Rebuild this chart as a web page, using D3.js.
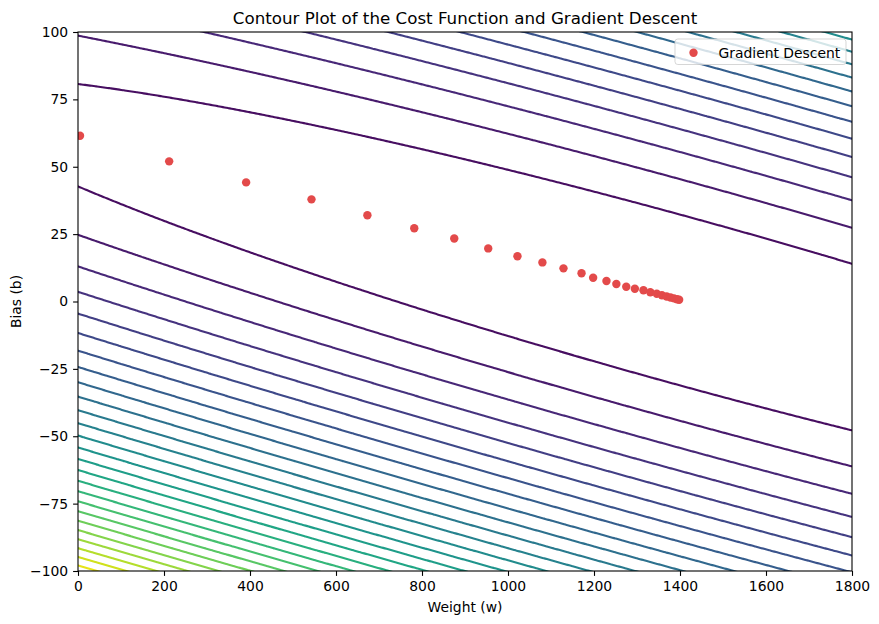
<!DOCTYPE html>
<html>
<head>
<meta charset="utf-8">
<script src="https://cdn.jsdelivr.net/npm/d3@7"></script>
<style>
  body { margin: 0; background: #fff; }
  svg { font-family: "DejaVu Sans", sans-serif; }
  .axis text { font-size: 13.9px; fill: #000; }
  .axis path, .axis line { stroke: #000; stroke-width: 1.1px; }
</style>
</head>
<body>
<svg width="879" height="624"></svg>
<script>
// gradient descent steps
var gdW = [4.7, 212, 391, 543, 673, 782, 875, 954, 1022, 1080, 1129, 1171, 1198, 1229, 1252, 1275, 1295, 1315, 1331, 1346, 1358, 1369, 1378, 1386, 1393, 1398];
var gdB = [61.5, 52.0, 44.2, 37.9, 32.0, 27.2, 23.4, 19.7, 16.8, 14.5, 12.3, 10.5, 8.8, 7.6, 6.5, 5.5, 4.75, 4.16, 3.45, 2.86, 2.34, 1.86, 1.48, 1.15, 0.85, 0.63];

var xTicks = [0, 200, 400, 600, 800, 1000, 1200, 1400, 1600, 1800];
var yTicks = [-100, -75, -50, -25, 0, 25, 50, 75, 100];

// cost surface (2*J up to a constant), fitted to the contour lines
var valleyB0 = 61.7;      // best b at w = 0
var valleySlope = -0.04367; // best b drops this much per unit of w
var wBest = 1408;
var wCurv = 3.25e-4;
var levelStep = 1005;
var levelCount = 27;

function cost(w, b) {
  var r = b - (valleyB0 + valleySlope * w);
  return r * r + wCurv * (w - wBest) * (w - wBest);
}

var svg = d3.select("svg"),
    margin = {top: 32, right: 27, bottom: 53, left: 78},
    width = +svg.attr("width") - margin.left - margin.right,
    height = +svg.attr("height") - margin.top - margin.bottom;

var x = d3.scaleLinear().domain([0, 1800]).range([0, width]),
    y = d3.scaleLinear().domain([-100, 100]).range([height, 0]);

var g = svg.append("g")
    .attr("transform", "translate(" + margin.left + "," + margin.top + ")");

g.append("clipPath").attr("id", "plot-clip")
  .append("rect").attr("width", width).attr("height", height);

// grid a bit wider than the axes so the ring edges fall outside the clip
var wLo = -100, wHi = 1900, bLo = -110, bHi = 110, nx = 500, ny = 300;
var dw = (wHi - wLo) / (nx - 1), db = (bHi - bLo) / (ny - 1);
var values = new Float64Array(nx * ny);
for (var j = 0; j < ny; j++) {
  for (var i = 0; i < nx; i++) {
    values[j * nx + i] = cost(wLo + i * dw, bLo + j * db);
  }
}

var levels = d3.range(1, levelCount + 1).map(function(k) { return k * levelStep; });
var contours = d3.contours().size([nx, ny]).thresholds(levels)(values);

var proj = d3.geoTransform({
  point: function(px, py) {
    this.stream.point(x(wLo + (px - 0.5) * dw), y(bLo + (py - 0.5) * db));
  }
});
var path = d3.geoPath(proj);

g.append("g")
    .attr("clip-path", "url(#plot-clip)")
  .selectAll("path")
  .data(contours)
  .enter().append("path")
    .attr("d", path)
    .attr("fill", "none")
    .attr("stroke", function(d) { return d3.interpolateViridis(d.value / (levelStep * levelCount)); })
    .attr("stroke-width", 2.1);

g.append("g")
    .attr("clip-path", "url(#plot-clip)")
  .selectAll("circle")
  .data(gdW)
  .enter().append("circle")
    .attr("cx", function(d) { return x(d); })
    .attr("cy", function(d, i) { return y(gdB[i]); })
    .attr("r", 4.2)
    .attr("fill", "#e34a4a");

// frame
g.append("rect")
    .attr("width", width).attr("height", height)
    .attr("fill", "none").attr("stroke", "#000").attr("stroke-width", 1.1);

g.append("g")
    .attr("class", "axis")
    .attr("transform", "translate(0," + height + ")")
    .call(d3.axisBottom(x).tickValues(xTicks).tickSize(4.9).tickPadding(4.9).tickFormat(d3.format("d")))
    .call(function(a) { a.select(".domain").remove(); a.attr("font-family", null).attr("font-size", null); });

g.append("g")
    .attr("class", "axis")
    .call(d3.axisLeft(y).tickValues(yTicks).tickSize(4.9).tickPadding(4.9).tickFormat(d3.format("d")))
    .call(function(a) { a.select(".domain").remove(); a.attr("font-family", null).attr("font-size", null); });

svg.append("text")
    .attr("x", margin.left + width / 2).attr("y", 24)
    .attr("text-anchor", "middle")
    .attr("font-size", "16.7px")
    .text("Contour Plot of the Cost Function and Gradient Descent");

svg.append("text")
    .attr("x", margin.left + width / 2).attr("y", 612)
    .attr("text-anchor", "middle")
    .attr("font-size", "13.9px")
    .text("Weight (w)");

svg.append("text")
    .attr("transform", "translate(20.5," + (margin.top + height / 2) + ") rotate(-90)")
    .attr("text-anchor", "middle")
    .attr("font-size", "13.9px")
    .text("Bias (b)");

// legend
var lg = svg.append("g").attr("transform", "translate(675,39)");
lg.append("rect")
    .attr("width", 171).attr("height", 25.5).attr("rx", 2.8)
    .attr("fill", "#fff").attr("fill-opacity", 0.8)
    .attr("stroke", "#ccc").attr("stroke-opacity", 0.8);
lg.append("circle").attr("cx", 18.5).attr("cy", 13.7).attr("r", 4.2).attr("fill", "#e34a4a");
lg.append("text").attr("x", 43.5).attr("y", 18.5).attr("font-size", "13.9px").text("Gradient Descent");
</script>
</body>
</html>
